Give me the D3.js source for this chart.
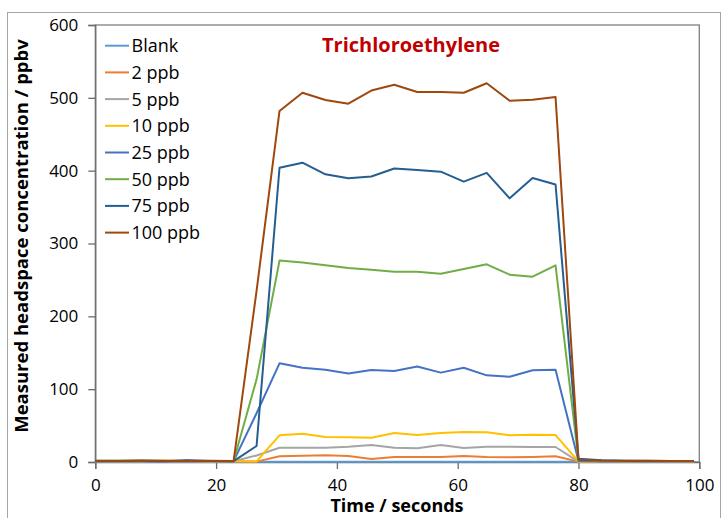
<!DOCTYPE html>
<html><head><meta charset="utf-8">
<script src="https://cdn.jsdelivr.net/npm/d3@7/dist/d3.min.js"></script>
<style>
html,body{margin:0;padding:0;background:#fff;}
svg{display:block;font-family:"Open Sans",Lato,sans-serif;}
</style></head><body>
<svg id="c" width="722" height="518"></svg>
<script>
// ---- data ----
const times = [0, 3.8, 7.6, 11.4, 15.2, 19.1, 22.9, 26.7, 30.5, 34.3, 38.1, 41.9, 45.7, 49.5, 53.3, 57.2, 61.0, 64.8, 68.6, 72.4, 76.2, 80.0, 83.8, 87.6, 91.4, 95.3, 99.1];
const seriesNames = ["Blank", "2 ppb", "5 ppb", "10 ppb", "25 ppb", "50 ppb", "75 ppb", "100 ppb"];
const seriesColors = ["#5b9bd5", "#ed7d31", "#a5a5a5", "#ffc000", "#4472c4", "#70ad47", "#255e91", "#9e480e"];
const blank  = [0.3, 0.3, 0.2, 0.3, 0.3, 0.2, 0.2, 0.3, 0.3, 0.2, 0.3, 0.3, 0.2, 0.3, 0.3, 0.2, 0.3, 0.3, 0.2, 0.3, 0.3, 0.3, 0.2, 0.3, 0.3, 0.2, 0.3];
const ppb2   = [1.2, 1.0, 1.3, 1.1, 1.0, 1.2, 1.0, 0.5, 7.8, 8.7, 9.2, 8.2, 4.1, 6.9, 6.9, 6.9, 8.2, 6.9, 6.4, 6.9, 7.8, 0.5, 1.0, 1.1, 1.0, 1.2, 1.0];
const ppb5   = [1.3, 1.2, 1.1, 1.4, 1.2, 1.1, 1.0, 9.0, 19.6, 19.6, 19.6, 21.0, 23.3, 19.6, 18.8, 23.3, 19.2, 21.0, 21.0, 20.6, 20.6, 0.5, 1.2, 1.3, 1.1, 1.2, 1.1];
const ppb10  = [1.5, 1.4, 1.2, 2.0, 1.3, 1.2, 1.0, 0.8, 36.6, 38.9, 34.3, 34.0, 33.4, 39.8, 37.0, 39.8, 41.2, 40.7, 36.6, 37.5, 37.0, 0.8, 1.3, 1.2, 1.4, 1.3, 1.2];
const ppb25  = [1.4, 1.5, 1.3, 1.2, 2.6, 1.3, 1.2, 67.0, 135.5, 129.5, 126.7, 121.5, 126.3, 125.0, 131.0, 122.7, 129.5, 119.0, 117.0, 125.9, 126.8, 1.5, 1.8, 1.4, 1.3, 1.4, 1.2];
const ppb50  = [1.8, 2.0, 1.6, 1.5, 1.4, 1.5, 1.3, 113.5, 276.5, 274.0, 270.0, 266.4, 264.0, 261.3, 261.3, 258.6, 265.0, 271.4, 257.2, 254.5, 270.0, 3.0, 1.8, 1.5, 1.6, 1.4, 1.3];
const ppb75  = [1.5, 1.4, 1.6, 1.4, 1.5, 1.4, 1.2, 22.0, 404.0, 411.0, 395.0, 389.6, 392.0, 403.0, 401.0, 398.6, 385.0, 397.0, 362.0, 390.0, 381.0, 4.5, 2.3, 1.6, 1.5, 1.4, 1.3];
const ppb100 = [1.6, 1.5, 2.2, 1.6, 1.5, 1.6, 1.4, 235.0, 482.0, 507.0, 497.0, 492.0, 510.0, 518.0, 508.0, 508.0, 507.0, 520.0, 496.0, 497.5, 501.0, 3.0, 1.9, 1.7, 1.6, 1.5, 1.4];
const xTicks = [0, 20, 40, 60, 80, 100];
const yTicks = [0, 100, 200, 300, 400, 500, 600];
const titleText = "Trichloroethylene";
const xTitle = "Time / seconds";
const yTitle = "Measured headspace concentration / ppbv";

const allSeries = [blank, ppb2, ppb5, ppb10, ppb25, ppb50, ppb75, ppb100];

// ---- drawing ----
const svg = d3.select("#c");
const x = d3.scaleLinear().domain([0, 100]).range([95.3, 699.3]);
const y = d3.scaleLinear().domain([0, 600]).range([462, 25]);

// outer chart border
svg.append("rect").attr("x", 7.5).attr("y", 12.5).attr("width", 713).attr("height", 530)
  .attr("fill", "none").attr("stroke", "#a6a6a6").attr("stroke-width", 1);

// plot area border
svg.append("rect").attr("x", x(0)).attr("y", y(600)).attr("width", x(100) - x(0)).attr("height", y(0) - y(600))
  .attr("fill", "none").attr("stroke", "#808080").attr("stroke-width", 1.3);

// axes
const xAxis = d3.axisBottom(x).tickValues(xTicks).tickSize(7).tickPadding(10).tickFormat(d3.format("d"));
const yAxis = d3.axisLeft(y).tickValues(yTicks).tickSize(7).tickPadding(10).tickFormat(d3.format("d"));
const gx = svg.append("g").attr("transform", `translate(0,${y(0)})`).call(xAxis);
const gy = svg.append("g").attr("transform", `translate(${x(0)},0)`).call(yAxis);
[gx, gy].forEach(g => {
  g.select(".domain").attr("stroke", "#6d6d6d").attr("stroke-width", 1.3);
  g.selectAll(".tick line").attr("stroke", "#6d6d6d").attr("stroke-width", 1.3);
  g.selectAll(".tick text").attr("fill", "#000").style("font-size", "17px").style("font-family", '"Open Sans",sans-serif');
});

// lines
const line = d3.line().x((d, i) => x(times[i])).y(d => y(d));
svg.append("g").selectAll("path").data(allSeries).join("path")
  .attr("d", d => line(d))
  .attr("fill", "none")
  .attr("stroke", (d, i) => seriesColors[i])
  .attr("stroke-width", 2)
  .attr("stroke-linejoin", "round");

// legend
const lg = svg.append("g");
seriesNames.forEach((n, i) => {
  const yy = 45.7 + i * 26.7;
  lg.append("line").attr("x1", 105).attr("x2", 129).attr("y1", yy).attr("y2", yy)
    .attr("stroke", seriesColors[i]).attr("stroke-width", 2);
  lg.append("text").attr("x", 131.5).attr("y", yy).attr("dy", "0.36em")
    .style("font-size", "18px").attr("fill", "#000").text(n);
});

// title
svg.append("text").attr("x", 411).attr("y", 45).attr("dy", "0.36em").attr("text-anchor", "middle")
  .style("font-size", "20px").style("font-weight", "bold").attr("fill", "#c00000").text(titleText);

// axis titles
svg.append("text").attr("x", 397).attr("y", 506).attr("dy", "0.36em").attr("text-anchor", "middle")
  .style("font-size", "18px").style("font-weight", "bold").attr("fill", "#000").text(xTitle);
svg.append("text").attr("transform", "translate(21,236) rotate(-90)").attr("dy", "0.36em").attr("text-anchor", "middle")
  .style("font-size", "18.5px").style("font-weight", "bold").attr("fill", "#000").text(yTitle);
</script>
</body></html>
